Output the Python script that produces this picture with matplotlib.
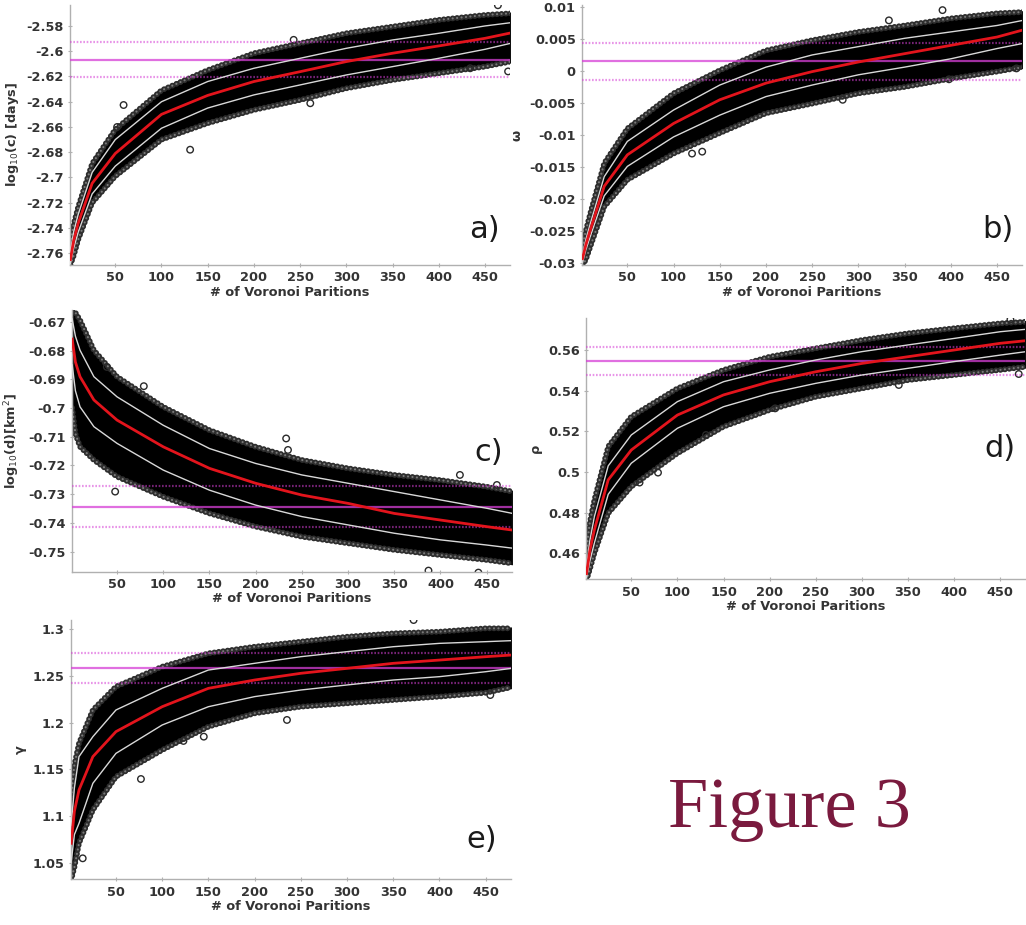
import matplotlib
matplotlib.use("Agg")
import matplotlib.pyplot as plt
from matplotlib.ticker import FormatStrFormatter

plt.rcParams["axes.unicode_minus"] = False
plt.rcParams["font.family"] = ["DejaVu Sans"]
plt.rcParams["lines.scale_dashes"] = False

# Number of Voronoi partitions at which the ensemble summaries are taken
PARTITIONS = [1.5, 5, 10, 25, 50, 100, 150, 200, 250, 300, 350, 400, 450, 478]

# a) log10(c) [days]
C_HI = [-2.752, -2.737, -2.723, -2.689, -2.662, -2.631, -2.615, -2.6016, -2.5937, -2.5858, -2.5805, -2.5752, -2.5713, -2.570]
C_LO = [-2.769, -2.762, -2.749, -2.720, -2.699, -2.670, -2.657, -2.6465, -2.6386, -2.6294, -2.6228, -2.6175, -2.6122, -2.6082]
C_MEAN = [-2.765, -2.750, -2.736, -2.7046, -2.681, -2.650, -2.635, -2.624, -2.6162, -2.6082, -2.6016, -2.5958, -2.5898, -2.5855]
C_UP = [-2.759, -2.743, -2.729, -2.696, -2.670, -2.640, -2.624, -2.6135, -2.6056, -2.5977, -2.5911, -2.5858, -2.580, -2.5774]
C_DN = [-2.768, -2.756, -2.743, -2.713, -2.691, -2.661, -2.645, -2.6346, -2.6267, -2.6188, -2.6122, -2.6056, -2.5985, -2.5937]
C_REF = (-2.6067, 0.0141)
C_OUT_X = [59, 52, 131, 243, 261, 434, 464, 475]
C_OUT_Y = [-2.6426, -2.660, -2.678, -2.591, -2.6412, -2.6135, -2.5636, -2.616]
C_YTICKS = [-2.76, -2.74, -2.72, -2.70, -2.68, -2.66, -2.64, -2.62, -2.60, -2.58]

# b) omega
W_HI = [-0.0275, -0.025, -0.0222, -0.0144, -0.0090, -0.0035, 0.0001, 0.0032, 0.0048, 0.0061, 0.0071, 0.0082, 0.0090, 0.0092]
W_LO = [-0.0303, -0.0295, -0.0274, -0.0212, -0.0170, -0.0129, -0.0097, -0.0066, -0.0051, -0.0035, -0.0025, -0.0012, -0.0001, 0.0006]
W_MEAN = [-0.0293, -0.0272, -0.0248, -0.0180, -0.0131, -0.0082, -0.0045, -0.0019, -0.0001, 0.0014, 0.0027, 0.0040, 0.0053, 0.0064]
W_UP = [-0.0288, -0.0264, -0.0238, -0.0165, -0.0110, -0.0061, -0.0022, 0.0006, 0.0025, 0.0038, 0.0051, 0.0061, 0.0071, 0.0079]
W_DN = [-0.0299, -0.0280, -0.0258, -0.0195, -0.0149, -0.0103, -0.0069, -0.0040, -0.0022, -0.0006, 0.0006, 0.0019, 0.0035, 0.0043]
W_REF = (0.0015, 0.0029)
W_OUT_X = [120, 131, 283, 333, 391, 398, 471]
W_OUT_Y = [-0.0129, -0.0126, -0.0045, 0.0079, 0.0095, -0.0013, 0.0004]
W_YTICKS = [-0.03, -0.025, -0.02, -0.015, -0.01, -0.005, 0.0, 0.005, 0.01]

# c) log10(d) [km^2]
D_HI = [-0.6662, -0.6668, -0.6694, -0.6799, -0.6891, -0.6996, -0.7077, -0.7135, -0.7181, -0.7210, -0.7233, -0.7251, -0.7274, -0.7291]
D_LO = [-0.7000, -0.7090, -0.7135, -0.7181, -0.7239, -0.7309, -0.7367, -0.7413, -0.7448, -0.7471, -0.7494, -0.7512, -0.7529, -0.7541]
D_MEAN = [-0.6760, -0.6840, -0.6891, -0.6972, -0.7042, -0.7135, -0.7210, -0.7262, -0.7303, -0.7332, -0.7367, -0.7390, -0.7413, -0.7425]
D_UP = [-0.6690, -0.6750, -0.6799, -0.6891, -0.6961, -0.7060, -0.7141, -0.7193, -0.7233, -0.7262, -0.7291, -0.7320, -0.7349, -0.7367]
D_DN = [-0.6850, -0.6940, -0.6996, -0.7065, -0.7123, -0.7216, -0.7286, -0.7338, -0.7378, -0.7407, -0.7436, -0.7459, -0.7477, -0.7488]
D_REF = (-0.7343, 0.0071)
D_OUT_X = [39, 48, 79, 233, 235, 387, 421, 441, 461]
D_OUT_Y = [-0.6857, -0.7291, -0.6924, -0.7106, -0.7146, -0.7566, -0.7233, -0.7573, -0.7268]
D_YTICKS = [-0.75, -0.74, -0.73, -0.72, -0.71, -0.70, -0.69, -0.68, -0.67]

# d) rho
R_HI = [0.4616, 0.4750, 0.4862, 0.5125, 0.5272, 0.5411, 0.5502, 0.5567, 0.5608, 0.5649, 0.5682, 0.5707, 0.5731, 0.5739]
R_LO = [0.4469, 0.4520, 0.4600, 0.4797, 0.4928, 0.5092, 0.5223, 0.5305, 0.5370, 0.5411, 0.5452, 0.5477, 0.5502, 0.5518]
R_MEAN = [0.4500, 0.4610, 0.4715, 0.4961, 0.5108, 0.5280, 0.5379, 0.5444, 0.5493, 0.5534, 0.5567, 0.5600, 0.5633, 0.5646]
R_UP = [0.4530, 0.4660, 0.4780, 0.5030, 0.5182, 0.5346, 0.5444, 0.5502, 0.5551, 0.5592, 0.5625, 0.5657, 0.5690, 0.5702]
R_DN = [0.4480, 0.4560, 0.4650, 0.4890, 0.5043, 0.5215, 0.5321, 0.5387, 0.5436, 0.5477, 0.5510, 0.5543, 0.5575, 0.5592]
R_REF = (0.5545, 0.0068)
R_OUT_X = [59, 79, 131, 206, 340, 461, 470]
R_OUT_Y = [0.4948, 0.4997, 0.5182, 0.5313, 0.5428, 0.5750, 0.5482]
R_YTICKS = [0.46, 0.48, 0.50, 0.52, 0.54, 0.56]

# e) gamma
G_HI = [1.1207, 1.1550, 1.1779, 1.2136, 1.2386, 1.2600, 1.2743, 1.2814, 1.2868, 1.2921, 1.2957, 1.2975, 1.3011, 1.3011]
G_LO = [1.0314, 1.0450, 1.0707, 1.1064, 1.1421, 1.1707, 1.1957, 1.2100, 1.2171, 1.2207, 1.2243, 1.2279, 1.2320, 1.2380]
G_MEAN = [1.0707, 1.1050, 1.1279, 1.1636, 1.1904, 1.2171, 1.2368, 1.2457, 1.2529, 1.2582, 1.2636, 1.2671, 1.2707, 1.2725]
G_UP = [1.0900, 1.1300, 1.1636, 1.1850, 1.2136, 1.2368, 1.2564, 1.2636, 1.2707, 1.2761, 1.2814, 1.2850, 1.2868, 1.2879]
G_DN = [1.0500, 1.0800, 1.0921, 1.1350, 1.1671, 1.1975, 1.2171, 1.2279, 1.2350, 1.2404, 1.2457, 1.2493, 1.2546, 1.2582]
G_REF = (1.2585, 0.0162)
G_OUT_X = [14, 77, 123, 145, 235, 372, 455]
G_OUT_Y = [1.0546, 1.1396, 1.1804, 1.1850, 1.2029, 1.3100, 1.2296]
G_YTICKS = [1.05, 1.10, 1.15, 1.20, 1.25, 1.30]

X_LABEL = "# of Voronoi Paritions"
X_TICKS = [50, 100, 150, 200, 250, 300, 350, 400, 450]

panels = [
    dict(hi=C_HI, lo=C_LO, mean=C_MEAN, up=C_UP, dn=C_DN, ref=C_REF, ox=C_OUT_X, oy=C_OUT_Y,
         yticks=C_YTICKS, ylabel=r"log$_{10}$(c) [days]", tag="a)", ylim=(-2.7693, -2.5634),
         rect=[0.0682, 0.7135, 0.4288, 0.2811], tagpos=(0.977, 0.135)),
    dict(hi=W_HI, lo=W_LO, mean=W_MEAN, up=W_UP, dn=W_DN, ref=W_REF, ox=W_OUT_X, oy=W_OUT_Y,
         yticks=W_YTICKS, ylabel="ω", tag="b)", ylim=(-0.0303, 0.0103),
         rect=[0.5673, 0.7135, 0.4288, 0.2811], tagpos=(0.98, 0.135)),
    dict(hi=D_HI, lo=D_LO, mean=D_MEAN, up=D_UP, dn=D_DN, ref=D_REF, ox=D_OUT_X, oy=D_OUT_Y,
         yticks=D_YTICKS, ylabel=r"log$_{10}$(d)[km$^2$]", tag="c)", ylim=(-0.757, -0.6659),
         rect=[0.0699, 0.3819, 0.4288, 0.2829], tagpos=(0.98, 0.454)),
    dict(hi=R_HI, lo=R_LO, mean=R_MEAN, up=R_UP, dn=R_DN, ref=R_REF, ox=R_OUT_X, oy=R_OUT_Y,
         yticks=R_YTICKS, ylabel="ρ", tag="d)", ylim=(0.4472, 0.5756),
         rect=[0.5712, 0.3737, 0.4280, 0.2822], tagpos=(0.977, 0.503)),
    dict(hi=G_HI, lo=G_LO, mean=G_MEAN, up=G_UP, dn=G_DN, ref=G_REF, ox=G_OUT_X, oy=G_OUT_Y,
         yticks=G_YTICKS, ylabel="γ", tag="e)", ylim=(1.0321, 1.31),
         rect=[0.0689, 0.0494, 0.4288, 0.2803], tagpos=(0.97, 0.152)),
]

TEXT_COLOR = "#333333"
SPINE_COLOR = "#b0b0b0"
MAGENTA = "#d63fd6"
BEADS = (0, (0.01, 3.2))

fig = plt.figure(figsize=(10.26, 9.25), dpi=100)

for p in panels:
    ax = fig.add_axes(p["rect"])
    x = PARTITIONS

    # ensemble cloud with a scalloped rim of open markers
    ax.fill_between(x, p["lo"], p["hi"], facecolor="black", edgecolor="#111111",
                    linewidth=2, zorder=2)
    for edge in (p["hi"], p["lo"]):
        ax.plot(x, edge, color="#2e2e2e", lw=4.2, ls=BEADS, dash_capstyle="round", zorder=2)
        ax.plot(x, edge, color="#7a7a7a", lw=1.6, ls=BEADS, dash_capstyle="round", zorder=2)
    ax.scatter(p["ox"], p["oy"], s=22, facecolors="none", edgecolors="#2a2a2a",
               linewidths=1.0, zorder=2)

    # reference level with its +/- spread
    m, s = p["ref"]
    ax.axhline(m, color=MAGENTA, lw=1.6, alpha=0.75, zorder=3)
    for lvl in (m - s, m + s):
        ax.axhline(lvl, color=MAGENTA, lw=1.6, alpha=0.55, ls=(0, (1.2, 1.2)), zorder=3)

    # spread and mean across realisations
    ax.plot(x, p["up"], color="#d9d9d9", lw=1.0, zorder=4)
    ax.plot(x, p["dn"], color="#d9d9d9", lw=1.0, zorder=4)
    ax.plot(x, p["mean"], color="#e3141c", lw=2.0, zorder=5)

    ax.set_xlim(1, 477)
    ax.set_xticks(X_TICKS)
    ax.set_yticks(p["yticks"])
    ax.yaxis.set_major_formatter(FormatStrFormatter("%g"))
    ax.set_ylim(*p["ylim"])

    for side in ("top", "right"):
        ax.spines[side].set_visible(False)
    for side in ("left", "bottom"):
        ax.spines[side].set_color(SPINE_COLOR)
        ax.spines[side].set_linewidth(1.0)
    ax.tick_params(axis="both", direction="inout", length=3, width=0.8, color=SPINE_COLOR,
                   labelsize=9.3, labelcolor=TEXT_COLOR, pad=3)
    for lab in ax.get_xticklabels() + ax.get_yticklabels():
        lab.set_fontweight("bold")

    ax.set_xlabel(X_LABEL, fontsize=9.3, fontweight="bold", color=TEXT_COLOR, labelpad=1)
    ax.set_ylabel(p["ylabel"], fontsize=9.3, fontweight="bold", color=TEXT_COLOR, labelpad=4)

    ax.text(p["tagpos"][0], p["tagpos"][1], p["tag"], transform=ax.transAxes,
            ha="right", va="center", fontsize=22, color="#1a1a1a")

fig.text(0.7695, 0.125, "Figure 3", ha="center", va="center", fontsize=52,
         family=["Liberation Serif", "DejaVu Serif"], color="#7a1a3e")

fig.savefig("out.png", dpi=100)
